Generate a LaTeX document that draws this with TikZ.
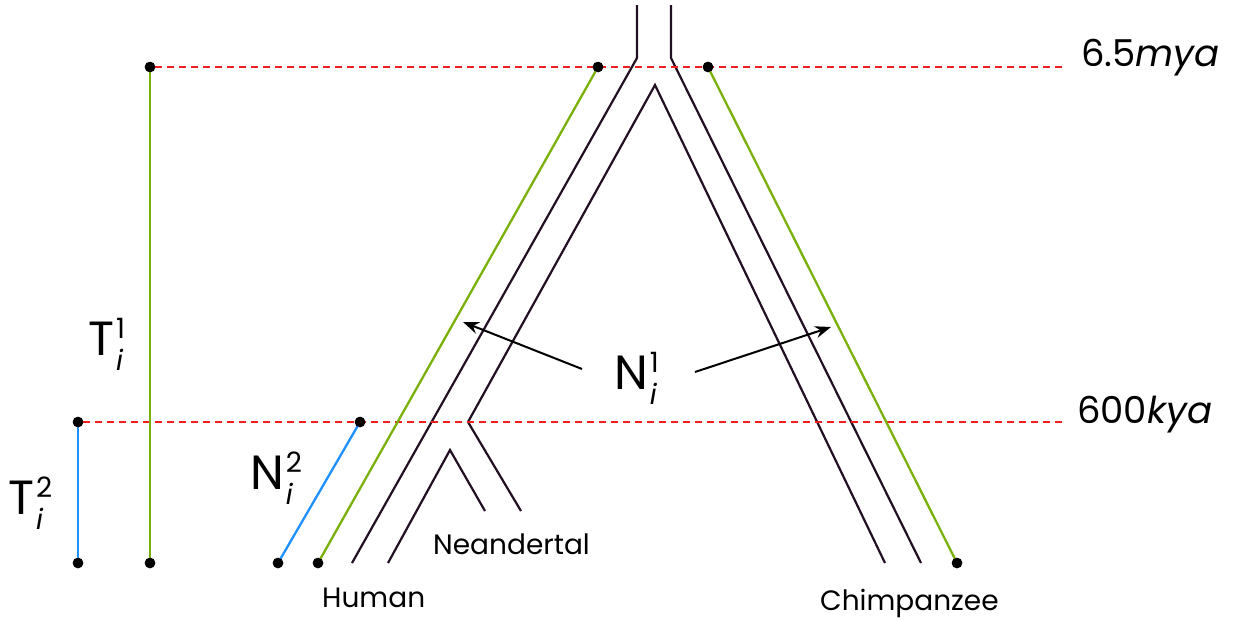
\documentclass[tikz,border=0pt]{standalone}
\usepackage{fontspec}
\setmainfont{Poppins}
\usetikzlibrary{arrows.meta}
\definecolor{lgreen}{RGB}{122,176,10}
\definecolor{lblue}{RGB}{30,144,255}
\definecolor{lred}{RGB}{240,30,30}
\definecolor{treec}{RGB}{35,15,35}
\newcommand\supsub[3]{#1\hspace{2pt}\rlap{\raisebox{17pt}{\fontsize{28}{28}\selectfont #2}}\raisebox{-15pt}{\fontsize{28}{28}\selectfont\itshape #3}}
\begin{document}
\begin{tikzpicture}[x=1pt,y=-1pt,
  treeline/.style={draw=treec,line width=2.2pt},
  gline/.style={draw=lgreen,line width=2.3pt},
  bline/.style={draw=lblue,line width=2.3pt},
  rdash/.style={draw=lred,line width=1.7pt,dash pattern=on 7pt off 5pt},
  dot/.style={circle,fill=black,inner sep=0pt,minimum size=10.5pt},
  arr/.style={draw=black,line width=2pt,-{Stealth[length=16pt,width=12pt]}},
  lbl/.style={anchor=base west,inner sep=0pt,font=\fontsize{28}{28}\selectfont},
  timelbl/.style={anchor=base west,inner sep=0pt,font=\fontsize{37}{37}\selectfont},
  symlbl/.style={anchor=base west,inner sep=0pt,font=\fontsize{48}{48}\selectfont}]
\useasboundingbox (0,0) rectangle (1235,621);
% tree coordinates
\coordinate (sLt) at (637,5);
\coordinate (sLb) at (637,58);
\coordinate (sRt) at (671,5);
\coordinate (sRb) at (671,58);
\coordinate (hO) at (352,563);
\coordinate (apex) at (655,85);
\coordinate (fork) at (468,422);
\coordinate (nO) at (521,511);
\coordinate (nApex) at (450,450);
\coordinate (hI) at (388,563);
\coordinate (nI) at (485,511);
\coordinate (cI) at (885,563);
\coordinate (cO) at (921,563);
% tree lines
\draw[treeline] (sLt) -- (sLb) -- (hO);
\draw[treeline] (sRt) -- (sRb) -- (cO);
\draw[treeline] (nO) -- (fork) -- (apex) -- (cI);
\draw[treeline] (hI) -- (nApex) -- (nI);
% dashed time lines
\node[dot] (t1) at (150,67) {};
\node[dot] (t1b) at (150,563) {};
\node[dot] (t2) at (78,422) {};
\node[dot] (t2b) at (78,563) {};
\coordinate (e1) at (1062,67);
\coordinate (e2) at (1062,422);
\draw[rdash] (t1) -- (e1);
\draw[rdash] (t2) -- (e2);
% green and blue lines
\node[dot] (gLt) at (598,67) {};
\node[dot] (gLb) at (318,563) {};
\node[dot] (gRt) at (708,67) {};
\node[dot] (gRb) at (957,563) {};
\node[dot] (bt) at (360,422) {};
\node[dot] (bb) at (278,563) {};
\draw[gline] (t1.center) -- (t1b.center);
\draw[gline] (gLt.center) -- (gLb.center);
\draw[gline] (gRt.center) -- (gRb.center);
\draw[bline] (t2.center) -- (t2b.center);
\draw[bline] (bt.center) -- (bb.center);
\node[dot] at (t1) {};
\node[dot] at (t1b) {};
\node[dot] at (t2) {};
\node[dot] at (t2b) {};
\node[dot] at (gLt) {};
\node[dot] at (gLb) {};
\node[dot] at (gRt) {};
\node[dot] at (gRb) {};
\node[dot] at (bt) {};
\node[dot] at (bb) {};
% labels
\node[timelbl] (mya) at (1081,66) {6.5\textit{mya}};
\node[timelbl] (kya) at (1077,423) {600\textit{kya}};
\node[lbl] (human) at (322,607) {Human};
\node[lbl] (neand) at (433,554) {Neandertal};
\node[lbl] (chimp) at (820,610) {Chimpanzee};
\node[symlbl] (T1) at (88,355) {\supsub{T}{1}{i}};
\node[symlbl] (T2) at (8,514) {\supsub{T}{2}{i}};
\node[symlbl] (N2) at (250,489) {\supsub{N}{2}{i}};
\node[symlbl] (N1) at (614,389) {\supsub{N}{1}{i}};
% arrows
\coordinate (a1s) at (582,369);
\coordinate (a1e) at (463,322);
\coordinate (a2s) at (695,372);
\coordinate (a2e) at (831,327);
\draw[arr] (a1s) -- (a1e);
\draw[arr] (a2s) -- (a2e);
\end{tikzpicture}
\end{document}
